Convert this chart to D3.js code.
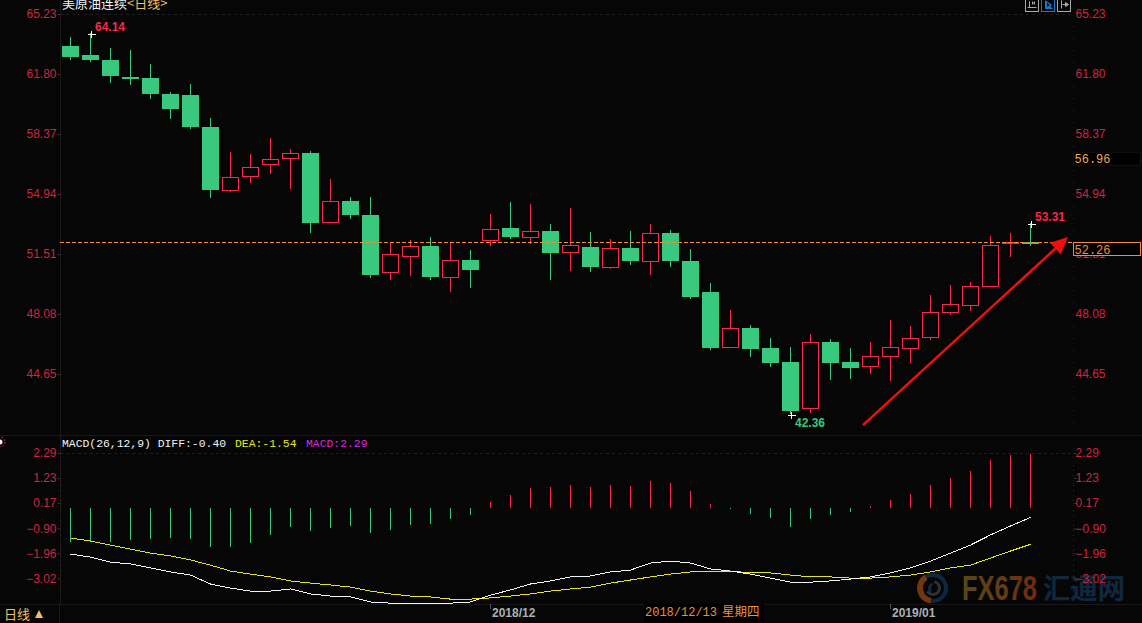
<!DOCTYPE html>
<html>
<head>
<meta charset="utf-8">
<script src="https://cdn.jsdelivr.net/npm/d3@7"></script>
<style>
  html, body { margin: 0; padding: 0; background: #060606; overflow: hidden; }
  svg { display: block; }
  text { font-family: 'Liberation Sans', sans-serif; }
  .mono { font-family: 'Liberation Mono', monospace; }
  .cjk { font-family: 'Noto Sans CJK SC', sans-serif; }
</style>
</head>
<body>
<svg width="1142" height="623"></svg>
<script>
(function () {

  // daily candles, first to last
  var opens = [63.40, 62.89, 62.60, 61.63, 61.57, 60.66, 60.60, 58.77, 55.17, 55.97,
    56.65, 57.00, 57.28, 53.34, 54.54, 53.74, 50.48, 51.39, 51.97, 50.19,
    51.17, 52.31, 53.00, 52.48, 52.82, 51.62, 51.91, 50.77, 51.85, 51.11,
    52.71, 51.11, 49.34, 46.19, 47.28, 46.14, 45.33, 42.70, 46.48, 45.33,
    45.11, 45.68, 46.14, 46.76, 48.19, 48.59, 49.68, 52.14, 52.19]
  var closes = [62.77, 62.60, 61.69, 61.51, 60.66, 59.80, 58.77, 55.17, 55.91, 56.48,
    56.94, 57.28, 53.28, 54.54, 53.74, 50.31, 51.51, 51.97, 50.19, 51.17,
    50.59, 52.94, 52.48, 52.82, 51.57, 52.02, 50.77, 51.85, 51.11, 52.71,
    51.11, 49.05, 46.14, 47.28, 46.08, 45.28, 42.53, 46.48, 45.28, 44.99,
    45.68, 46.19, 46.71, 48.19, 48.65, 49.68, 52.02, 52.19, 52.14]
  var highs = [63.91, 64.14, 63.29, 63.17, 62.37, 60.77, 61.23, 59.28, 57.34, 57.23,
    58.14, 57.51, 57.40, 55.80, 54.77, 54.77, 52.19, 52.31, 52.48, 52.14,
    51.74, 53.80, 54.48, 54.37, 53.22, 54.14, 52.77, 52.37, 52.82, 53.22,
    52.88, 51.80, 49.85, 48.31, 47.45, 46.71, 46.19, 46.94, 46.65, 46.14,
    46.48, 47.74, 47.39, 49.17, 49.74, 49.91, 52.54, 52.71, 53.31]
  var lows = [62.60, 62.49, 61.28, 61.17, 60.37, 59.23, 58.65, 54.71, 55.05, 55.57,
    56.08, 55.22, 52.71, 53.34, 53.51, 50.14, 50.02, 50.25, 50.02, 49.34,
    49.57, 51.97, 52.37, 52.08, 50.02, 50.54, 50.48, 50.65, 50.88, 50.31,
    50.77, 48.94, 46.02, 46.19, 45.62, 45.05, 42.36, 42.42, 44.31, 44.36,
    44.65, 44.25, 45.28, 46.59, 48.02, 48.25, 49.62, 51.34, 51.97]

  // MACD panel
  var macdBars = [-1.44, -1.44, -1.44, -1.36, -1.31, -1.27, -1.31, -1.65, -1.65, -1.48,
    -1.14, -0.81, -0.97, -0.85, -0.76, -1.06, -0.93, -0.72, -0.68, -0.47,
    -0.30, 0.25, 0.55, 0.85, 0.89, 0.97, 0.89, 0.97, 0.93, 1.14,
    1.06, 0.72, 0.17, -0.04, -0.25, -0.42, -0.81, -0.47, -0.30, -0.17,
    0.08, 0.34, 0.59, 0.97, 1.27, 1.57, 2.03, 2.25, 2.29]
  var diffLine = [-1.95, -2.08, -2.29, -2.37, -2.54, -2.71, -2.84, -3.22, -3.39, -3.52,
    -3.52, -3.43, -3.64, -3.73, -3.77, -3.98, -4.03, -4.03, -4.03, -4.03,
    -3.98, -3.69, -3.47, -3.22, -3.09, -2.92, -2.88, -2.71, -2.63, -2.33,
    -2.25, -2.33, -2.58, -2.67, -2.80, -2.97, -3.14, -3.14, -3.09, -3.01,
    -2.92, -2.75, -2.54, -2.25, -1.91, -1.57, -1.14, -0.76, -0.40]
  var deaLine = [-1.27, -1.40, -1.57, -1.74, -1.91, -2.03, -2.20, -2.42, -2.67, -2.80,
    -2.92, -3.09, -3.18, -3.26, -3.35, -3.52, -3.64, -3.73, -3.77, -3.86,
    -3.86, -3.81, -3.73, -3.64, -3.52, -3.43, -3.35, -3.18, -3.05, -2.92,
    -2.80, -2.71, -2.67, -2.67, -2.75, -2.75, -2.84, -2.92, -2.92, -2.97,
    -2.97, -2.92, -2.84, -2.71, -2.54, -2.42, -2.12, -1.82, -1.54]

  // axis labels
  var priceTicks = [65.23, 61.80, 58.37, 54.94, 51.51, 48.08, 44.65]
  var macdTicks = [2.29, 1.23, 0.17, -0.90, -1.96, -3.02]
  var monthIndexes = [21, 41]
  var monthLabels = ['2018/12', '2019/01']
  var lastClose = 52.26
  var crossPrice = 56.96
  var extremes = [
    { i: 1, price: 64.14, dir: 'high' },
    { i: 36, price: 42.36, dir: 'low' },
    { i: 48, price: 53.31, dir: 'high' }
  ]

  var RED = '#f8294b'
  var GREEN = '#38c97f'
  var AXIS_RED = '#cf2440'
  var BG = '#060606'

  var svg = d3.select('svg')

  var xScale = d3.scaleLinear().domain([0, 48]).range([70, 1030])
  var yPrice = d3.scaleLinear().domain([65.23, 44.65]).range([14, 374])
  var yMacd = d3.scaleLinear().domain([2.29, -3.02]).range([454, 579.3])

  var crisp = function (v) { return Math.round(v) + 0.5 }
  var candles = d3.range(opens.length)

  // watermark sits under everything
  var defs = svg.append('defs')
  var grad = defs.append('linearGradient').attr('id', 'fxFill')
  grad.append('stop').attr('offset', '0%').attr('stop-color', '#584518')
  grad.append('stop').attr('offset', '60%').attr('stop-color', '#663a13')
  grad.append('stop').attr('offset', '100%').attr('stop-color', '#72290d')

  var mark = svg.append('g')
  var arc = d3.arc()
  var logo = mark.append('g').attr('transform', 'translate(933,588)')
  logo.append('circle').attr('r', 13).attr('fill', 'none').attr('stroke', '#0f2840').attr('stroke-width', 4)
  logo.append('path')
    .attr('d', arc({ innerRadius: 10, outerRadius: 16, startAngle: 3.3, endAngle: 5.7 }))
    .attr('fill', '#73370f')
  logo.append('path')
    .attr('d', arc({ innerRadius: 5, outerRadius: 8, startAngle: 0.2, endAngle: 4.2 }))
    .attr('fill', '#2c3038')
  logo.append('path')
    .attr('d', arc({ innerRadius: 2, outerRadius: 5, startAngle: 3.6, endAngle: 6.2 }))
    .attr('fill', '#0f2840')

  mark.append('text').attr('x', 962).attr('y', 600)
    .attr('textLength', 75).attr('lengthAdjust', 'spacingAndGlyphs')
    .attr('font-size', 35).attr('font-weight', 'bold')
    .attr('fill', 'url(#fxFill)').text('FX678')
  mark.append('text').attr('class', 'cjk').attr('x', 1043).attr('y', 599)
    .attr('textLength', 82).attr('lengthAdjust', 'spacingAndGlyphs')
    .attr('font-size', 28).attr('font-weight', 'bold')
    .attr('fill', '#0f2840').text('汇通网')

  // panel frame
  var frame = svg.append('g').attr('fill', 'none').attr('stroke', '#181818')
  frame.append('line').attr('x1', 60.5).attr('x2', 60.5).attr('y1', 0).attr('y2', 604)
  frame.append('line').attr('x1', 0).attr('x2', 1142).attr('y1', 435.5).attr('y2', 435.5)
  frame.append('line').attr('x1', 0).attr('x2', 1142).attr('y1', 604.5).attr('y2', 604.5)
  frame.append('line').attr('x1', 59.5).attr('x2', 59.5).attr('y1', 604).attr('y2', 623)
  frame.append('line').attr('x1', 60).attr('x2', 1073).attr('y1', 14.5).attr('y2', 14.5)
    .attr('stroke', '#1e1e1e').attr('stroke-dasharray', '3,3')
  frame.append('line').attr('x1', 60).attr('x2', 1073).attr('y1', 453.5).attr('y2', 453.5)
    .attr('stroke', '#1e1e1e').attr('stroke-dasharray', '3,3')

  // axes, both sides of both panels
  function styleAxis(g) {
    g.select('.domain').remove()
    g.selectAll('.tick line').attr('stroke', '#333')
    g.selectAll('.tick text').attr('fill', AXIS_RED).attr('font-size', 12)
      .attr('font-family', "'Liberation Sans', sans-serif")
  }

  function minorDots(xPos, top, bottom, step) {
    svg.append('g').selectAll('rect')
      .data(d3.range(top, bottom, step))
      .enter().append('rect')
      .attr('x', xPos).attr('y', function (d) { return d })
      .attr('width', 1).attr('height', 1).attr('fill', '#2a2a2a')
  }
  minorDots(60, 26, 430, 12)
  minorDots(1073, 26, 430, 12)
  minorDots(60, 465, 600, 5)
  minorDots(1073, 465, 600, 5)

  var fmt = d3.format('.2f')
  svg.append('g').attr('transform', 'translate(60.5,0)')
    .call(d3.axisLeft(yPrice).tickValues(priceTicks).tickSize(3).tickPadding(1).tickFormat(fmt))
    .call(styleAxis)
  svg.append('g').attr('transform', 'translate(1073.5,0)')
    .call(d3.axisRight(yPrice).tickValues(priceTicks).tickSize(0).tickPadding(2).tickFormat(fmt))
    .call(styleAxis)
  svg.append('g').attr('transform', 'translate(60.5,-1)')
    .call(d3.axisLeft(yMacd).tickValues(macdTicks).tickSize(3).tickPadding(1).tickFormat(fmt))
    .call(styleAxis)
  svg.append('g').attr('transform', 'translate(1073.5,-1)')
    .call(d3.axisRight(yMacd).tickValues(macdTicks).tickSize(3).tickPadding(-1).tickFormat(fmt))
    .call(styleAxis)

  // candles: wick first so the hollow red body covers it
  var candle = svg.append('g').selectAll('g')
    .data(candles)
    .enter().append('g')

  candle.append('line')
    .attr('x1', function (i) { return xScale(i) + 0.5 })
    .attr('x2', function (i) { return xScale(i) + 0.5 })
    .attr('y1', function (i) { return Math.round(yPrice(highs[i])) })
    .attr('y2', function (i) { return Math.round(yPrice(lows[i])) })
    .attr('stroke', function (i) { return closes[i] > opens[i] ? RED : GREEN })

  candle.filter(function (i) { return closes[i] > opens[i] })
    .append('rect')
    .attr('x', function (i) { return xScale(i) - 7.5 })
    .attr('width', 16)
    .attr('y', function (i) { return crisp(yPrice(closes[i])) })
    .attr('height', function (i) { return crisp(yPrice(opens[i])) - crisp(yPrice(closes[i])) })
    .attr('fill', BG)
    .attr('stroke', RED)

  candle.filter(function (i) { return closes[i] <= opens[i] })
    .append('rect')
    .attr('x', function (i) { return xScale(i) - 8 })
    .attr('width', 17)
    .attr('y', function (i) { return Math.round(yPrice(opens[i])) })
    .attr('height', function (i) {
      return Math.max(2, Math.round(yPrice(closes[i])) - Math.round(yPrice(opens[i])))
    })
    .attr('fill', GREEN)

  // high / low markers
  var ext = svg.append('g').selectAll('g')
    .data(extremes)
    .enter().append('g')
    .attr('transform', function (d) {
      return 'translate(' + xScale(d.i) + ',' + Math.round(yPrice(d.price)) + ')'
    })
  ext.append('path').attr('d', 'M-2,1.5H6M1.5,-2V5').attr('stroke', '#fff').attr('fill', 'none')
  ext.append('text')
    .attr('x', 5)
    .attr('y', function (d) { return d.dir === 'high' ? -2.5 : 12.5 })
    .attr('font-size', 12).attr('font-weight', 'bold')
    .attr('fill', function (d) { return d.dir === 'high' ? RED : GREEN })
    .text(function (d) { return d.price.toFixed(2) })

  // last close line and the two boxed prices on the right
  var closeY = Math.round(yPrice(lastClose)) + 1.5
  svg.append('line').attr('x1', 60).attr('x2', 1073)
    .attr('y1', closeY).attr('y2', closeY)
    .attr('stroke', '#f09030').attr('stroke-dasharray', '4,2')

  svg.append('rect').attr('x', 1073.5).attr('y', closeY).attr('width', 67).attr('height', 13)
    .attr('fill', '#000').attr('stroke', '#f09030')
  svg.append('text').attr('class', 'mono').attr('x', 1074.5).attr('y', closeY + 11)
    .attr('font-size', 12).attr('fill', '#f09030').text(lastClose.toFixed(2))

  var crossY = yPrice(crossPrice) + 0.5
  svg.append('rect').attr('x', 1073.5).attr('y', crossY - 7).attr('width', 67).attr('height', 13)
    .attr('fill', '#000').attr('stroke', '#141414')
  svg.append('text').attr('class', 'mono').attr('x', 1074.5).attr('y', crossY + 4)
    .attr('font-size', 12).attr('fill', '#f0a850').text(crossPrice.toFixed(2))

  // rising arrow drawn on top of the candles, in data coordinates
  var arrowFrom = [xScale(39.65), yPrice(41.73)]
  var arrowTip = [xScale(49.9), yPrice(52.48)]
  var ang = Math.atan2(arrowTip[1] - arrowFrom[1], arrowTip[0] - arrowFrom[0])
  var headBase = [arrowTip[0] - 17 * Math.cos(ang), arrowTip[1] - 17 * Math.sin(ang)]
  svg.append('line')
    .attr('x1', arrowFrom[0]).attr('y1', arrowFrom[1])
    .attr('x2', headBase[0]).attr('y2', headBase[1])
    .attr('stroke', '#ee1010').attr('stroke-width', 2.5)
  svg.append('polygon')
    .attr('points', [
      arrowTip,
      [headBase[0] + 8 * Math.sin(ang), headBase[1] - 8 * Math.cos(ang)],
      [headBase[0] - 8 * Math.sin(ang), headBase[1] + 8 * Math.cos(ang)]
    ].map(function (p) { return p.join(',') }).join(' '))
    .attr('fill', '#ee1010')

  // MACD histogram
  svg.append('g').selectAll('line')
    .data(macdBars)
    .enter().append('line')
    .attr('x1', function (d, i) { return xScale(i) + 0.5 })
    .attr('x2', function (d, i) { return xScale(i) + 0.5 })
    .attr('y1', yMacd(0))
    .attr('y2', function (d) { return Math.round(yMacd(d)) })
    .attr('stroke', function (d) { return d > 0 ? RED : GREEN })

  var macdPath = d3.line()
    .x(function (d, i) { return xScale(i) + 0.5 })
    .y(function (d) { return yMacd(d) })

  // the terminal draws these without smoothing, hence crispEdges
  svg.append('path').attr('d', macdPath(deaLine))
    .attr('fill', 'none').attr('stroke', '#e6e619').attr('shape-rendering', 'crispEdges')
  svg.append('path').attr('d', macdPath(diffLine))
    .attr('fill', 'none').attr('stroke', '#f4f4f4').attr('shape-rendering', 'crispEdges')

  // headers
  svg.append('text').attr('class', 'cjk').attr('x', 62).attr('y', 8)
    .attr('font-size', 13).attr('fill', '#f2f2f2').text('美原油连续')
  svg.append('text').attr('class', 'cjk').attr('x', 127).attr('y', 8)
    .attr('font-size', 13).attr('fill', '#f0c060').text('<日线>')

  var macdHead = [
    { x: 62, text: 'MACD(26,12,9) DIFF:-0.40', fill: '#f2f2f2' },
    { x: 235, text: 'DEA:-1.54', fill: '#e6e619' },
    { x: 306, text: 'MACD:2.29', fill: '#d828d8' }
  ]
  svg.append('g').selectAll('text')
    .data(macdHead)
    .enter().append('text')
    .attr('class', 'mono')
    .attr('x', function (d) { return d.x })
    .attr('y', 447)
    .attr('font-size', 11.4)
    .attr('fill', function (d) { return d.fill })
    .text(function (d) { return d.text })

  // date strip
  svg.append('g').selectAll('line')
    .data(monthIndexes)
    .enter().append('line')
    .attr('x1', function (i) { return xScale(i) + 0.5 })
    .attr('x2', function (i) { return xScale(i) + 0.5 })
    .attr('y1', 604).attr('y2', 609)
    .attr('stroke', '#555')
  svg.append('g').selectAll('text')
    .data(monthLabels)
    .enter().append('text')
    .attr('x', function (d, i) { return xScale(monthIndexes[i]) + 2 })
    .attr('y', 617)
    .attr('font-size', 12).attr('font-weight', 'bold')
    .attr('fill', '#aab0b6')
    .text(function (d) { return d })

  svg.append('rect').attr('x', 644).attr('y', 604).attr('width', 120).attr('height', 19).attr('fill', '#000')
  svg.append('text').attr('class', 'mono').attr('x', 645).attr('y', 616)
    .attr('font-size', 12).attr('fill', '#e8923c').text('2018/12/13')
  svg.append('text').attr('class', 'cjk').attr('x', 722).attr('y', 616)
    .attr('font-size', 12.5).attr('fill', '#e8923c').text('星期四')

  svg.append('text').attr('class', 'cjk').attr('x', 4).attr('y', 619)
    .attr('font-size', 13).attr('fill', '#f0c060').text('日线')
  svg.append('path').attr('d', 'M35,618L39,610L43,618Z').attr('fill', '#f0c060')

  // crosshair marker peeking in at the left edge
  svg.append('circle').attr('cx', 0).attr('cy', 442).attr('r', 2.5).attr('fill', '#f2f2f2')
  svg.append('circle').attr('cx', 0).attr('cy', 442).attr('r', 5)
    .attr('fill', 'none').attr('stroke', RED).attr('stroke-dasharray', '1.5,2')

  // small tool icons top right
  var icons = [
    { x: 1025.5, stroke: '#a8a8a8', glyph: 'M4,3V9M2,9H11M7,3V6M9,3V6M7,4.5H9', fill: 'none' },
    { x: 1041.5, stroke: '#1b78c9', glyph: 'M4,2V10H11M5,3L10,6.5L5,9Z', fill: '#1b78c9' },
    { x: 1057.5, stroke: '#a8a8a8', glyph: 'M4,2V10M5,6H9M8,4L11,6L8,8Z', fill: '#a8a8a8' }
  ]
  var icon = svg.append('g').selectAll('g')
    .data(icons)
    .enter().append('g')
    .attr('transform', function (d) { return 'translate(' + d.x + ',-1.5)' })
  icon.append('rect').attr('width', 13).attr('height', 13)
    .attr('fill', 'none')
    .attr('stroke', function (d) { return d.stroke })
  icon.append('path')
    .attr('d', function (d) { return d.glyph })
    .attr('stroke', function (d) { return d.stroke })
    .attr('fill', function (d) { return d.fill })

})()
</script>
</body>
</html>
